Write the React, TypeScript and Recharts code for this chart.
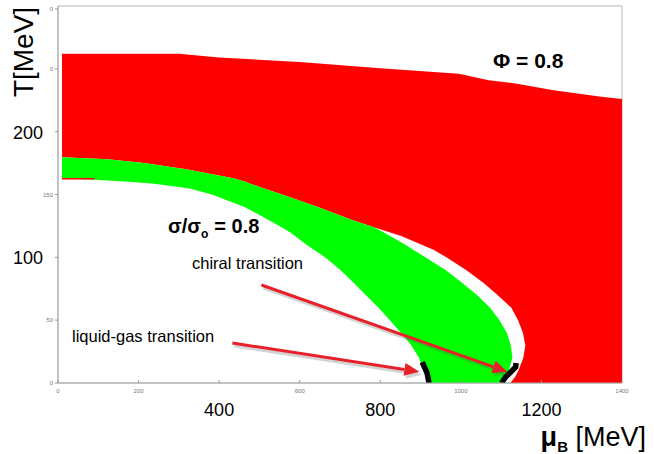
import React from "react";
import {
  ComposedChart,
  Area,
  Line,
  XAxis,
  YAxis,
  ReferenceArea,
  ReferenceLine,
} from "recharts";

// axes
const xTicks = [0, 200, 400, 600, 800, 1000, 1200, 1400];
const bigXTicks = [400, 800, 1200];
const yTicks = [0, 50, 100, 150, 200, 250, 300];
const yTickText = ["0", "50", "100", "150", "200", "0", "0"];
const bigYTicks = [100, 200];

// Phi = 0.8 region (red): mu_B range [left, right] at temperature T
const redT = [0, 5, 10, 20, 30, 40, 50, 60, 70, 80, 90, 100, 106, 110, 117, 120, 124, 130, 140, 150, 155, 158.5, 160, 163, 170, 175, 178, 179.6, 180, 226, 228, 233, 238, 241, 246, 250.5, 255.5, 259, 262];
const redLeft = [1123, 1135, 1143, 1155, 1160, 1154, 1142, 1125, 1091, 1055, 1013, 964, 932, 903, 852, 823, 784, 728, 645, 556, 510, 477, 467, 435, 318, 213, 123, 11, 10, 10, 10, 10, 10, 10, 10, 10, 10, 10, 10];
const redRight = [1400, 1400, 1400, 1400, 1400, 1400, 1400, 1400, 1400, 1400, 1400, 1400, 1400, 1400, 1400, 1400, 1400, 1400, 1400, 1400, 1400, 1400, 1400, 1400, 1400, 1400, 1400, 1400, 1400, 1400, 1344, 1230, 1143, 1069, 995, 800, 600, 400, 300];

// sigma/sigma0 = 0.8 band (green)
const greenT = [0, 10, 20, 30, 40, 50, 60, 70, 80, 90, 100, 110, 120, 124, 130, 140, 150, 155, 158.5, 160, 162, 162.9, 163, 170, 175, 178, 179.6];
const greenLeft = [917, 908, 896, 877, 851, 824, 795, 764, 733, 701, 663, 617, 576, 555, 522, 463, 382, 324, 238, 184, 80, 11, 10, 10, 10, 10, 10];
const greenRight = [1105, 1119, 1128, 1124, 1114, 1096, 1072, 1040, 1002, 962, 912, 862, 808, 784, 728, 645, 556, 510, 477, 467, 446, 437, 435, 318, 213, 123, 11];

// thin red strip under the green band at the left edge
const stripT = [162, 163.2];
const stripLeft = [10, 10];
const stripRight = [90, 90];

// transition lines (black)
const lgT = [0, 8, 16.7];
const lgMu = [921, 916, 904];
const chiralT = [0, 4.8, 8.8, 12.7, 15.9];
const chiralMu = [1101, 1111, 1124, 1136, 1137];

// annotation arrows [mu, T]
const chiralArrow = [[505, 78], [1116, 8.8]];
const lgArrow = [[433, 31.8], [897, 9]];

const redData = redT.map((T, i) => ({ T, mu: [redLeft[i], redRight[i]] }));
const greenData = greenT.map((T, i) => ({ T, mu: [greenLeft[i], greenRight[i]] }));
const stripData = stripT.map((T, i) => ({ T, mu: [stripLeft[i], stripRight[i]] }));
const lgData = lgT.map((T, i) => ({ T, mu: lgMu[i] }));
const chiralData = chiralT.map((T, i) => ({ T, mu: chiralMu[i] }));

const FONT = "'Liberation Sans', Arial, Helvetica, sans-serif";

const XTick = (props: any) => {
  const { x, y, payload } = props;
  const big = bigXTicks.includes(payload.value);
  return (
    <g>
      <line x1={x} x2={x} y1={y} y2={y - 3} stroke="#999" />
      {big ? (
        <text x={x} y={y + 33} textAnchor="middle" fontSize={18} fill="#000" fontFamily={FONT}>
          {payload.value}
        </text>
      ) : (
        <text x={x} y={y + 10} textAnchor="middle" fontSize={6} fill="#777" fontFamily={FONT}>
          {payload.value}
        </text>
      )}
    </g>
  );
};

const YTick = (props: any) => {
  const { x, y, payload } = props;
  const big = bigYTicks.includes(payload.value);
  const label = yTickText[yTicks.indexOf(payload.value)];
  return (
    <g>
      <line x1={x - 3} x2={x} y1={y} y2={y} stroke="#999" />
      {big ? (
        <text x={28} y={y + 7} textAnchor="middle" fontSize={18} fill="#000" fontFamily={FONT}>
          {label}
        </text>
      ) : (
        <text x={x - 5} y={y + 2} textAnchor="end" fontSize={6} fill="#777" fontFamily={FONT}>
          {label}
        </text>
      )}
    </g>
  );
};

const Arrow = (props: any) => {
  const { x1, y1, x2, y2 } = props;
  const a = Math.atan2(y2 - y1, x2 - x1);
  const len = 15;
  const half = 6.5;
  const bx = x2 - len * Math.cos(a);
  const by = y2 - len * Math.sin(a);
  const px = -Math.sin(a) * half;
  const py = Math.cos(a) * half;
  const head = `${x2},${y2} ${bx + px},${by + py} ${bx - px},${by - py}`;
  return (
    <g>
      <g opacity={0.25} transform="translate(2,3)">
        <line x1={x1} y1={y1} x2={bx} y2={by} stroke="#555" strokeWidth={3} />
        <polygon points={head} fill="#555" />
      </g>
      <line x1={x1} y1={y1} x2={bx} y2={by} stroke="#e8202a" strokeWidth={3} />
      <polygon points={head} fill="#e8202a" />
    </g>
  );
};

export default function App() {
  return (
    <div style={{ position: "absolute", left: 0, top: 0, width: 654, height: 454, background: "#fff" }}>
      <ComposedChart
        width={654}
        height={454}
        layout="vertical"
        margin={{ top: 6, right: 32, bottom: 0, left: 0 }}
      >
        <XAxis
          type="number"
          domain={[0, 1400]}
          ticks={xTicks}
          height={71}
          tickSize={0}
          tickMargin={0}
          tickLine={false}
          tick={<XTick />}
          axisLine={{ stroke: "#aaa" }}
          allowDataOverflow
        />
        <YAxis
          type="number"
          dataKey="T"
          domain={[0, 300]}
          ticks={yTicks}
          reversed
          width={58}
          tickSize={0}
          tickMargin={0}
          tickLine={false}
          tick={<YTick />}
          axisLine={{ stroke: "#aaa" }}
          allowDataOverflow
        />
        <ReferenceArea x1={0} x2={1400} y1={0} y2={300} fill="none" stroke="#b5b5b5" ifOverflow="visible" />
        <Area
          data={redData}
          dataKey="mu"
          type="linear"
          fill="#ff0000"
          fillOpacity={1}
          stroke="none"
          isAnimationActive={false}
          dot={false}
          activeDot={false}
        />
        <Area
          data={greenData}
          dataKey="mu"
          type="linear"
          fill="#00ff00"
          fillOpacity={1}
          stroke="none"
          isAnimationActive={false}
          dot={false}
          activeDot={false}
        />
        <Area
          data={stripData}
          dataKey="mu"
          type="linear"
          fill="#ff0000"
          fillOpacity={1}
          stroke="none"
          isAnimationActive={false}
          dot={false}
          activeDot={false}
        />
        <Line
          data={lgData}
          dataKey="mu"
          type="linear"
          stroke="#000"
          strokeWidth={5.5}
          dot={false}
          activeDot={false}
          isAnimationActive={false}
        />
        <Line
          data={chiralData}
          dataKey="mu"
          type="linear"
          stroke="#000"
          strokeWidth={5.5}
          dot={false}
          activeDot={false}
          isAnimationActive={false}
        />
        <ReferenceLine
          segment={[
            { x: chiralArrow[0][0], y: chiralArrow[0][1] },
            { x: chiralArrow[1][0], y: chiralArrow[1][1] },
          ]}
          shape={<Arrow />}
          ifOverflow="visible"
        />
        <ReferenceLine
          segment={[
            { x: lgArrow[0][0], y: lgArrow[0][1] },
            { x: lgArrow[1][0], y: lgArrow[1][1] },
          ]}
          shape={<Arrow />}
          ifOverflow="visible"
        />
      </ComposedChart>
      <svg
        width={654}
        height={454}
        style={{ position: "absolute", left: 0, top: 0, pointerEvents: "none" }}
        fontFamily={FONT}
      >
        <text transform="translate(33,52) rotate(-90)" textAnchor="middle" fontSize={28} fill="#000">
          T[MeV]
        </text>
        <text x={646} y={446} textAnchor="end" fontSize={27} fill="#000">
          <tspan fontWeight="bold">μ</tspan>
          <tspan fontSize={15} dy={6} fontWeight="bold">B</tspan>
          <tspan dy={-6}> [MeV]</tspan>
        </text>
        <text x={493} y={68} fontSize={21} fontWeight="bold" fill="#000">
          Φ = 0.8
        </text>
        <text x={168} y={233} fontSize={20} fontWeight="bold" fill="#000">
          σ/σ
          <tspan fontSize={12} dy={5}>o</tspan>
          <tspan dy={-5} dx={6}>= 0.8</tspan>
        </text>
        <text x={303} y={269} textAnchor="end" fontSize={16.5} fill="#000">
          chiral transition
        </text>
        <text x={72} y={342} fontSize={16.5} fill="#000">
          liquid-gas transition
        </text>
      </svg>
    </div>
  );
}
